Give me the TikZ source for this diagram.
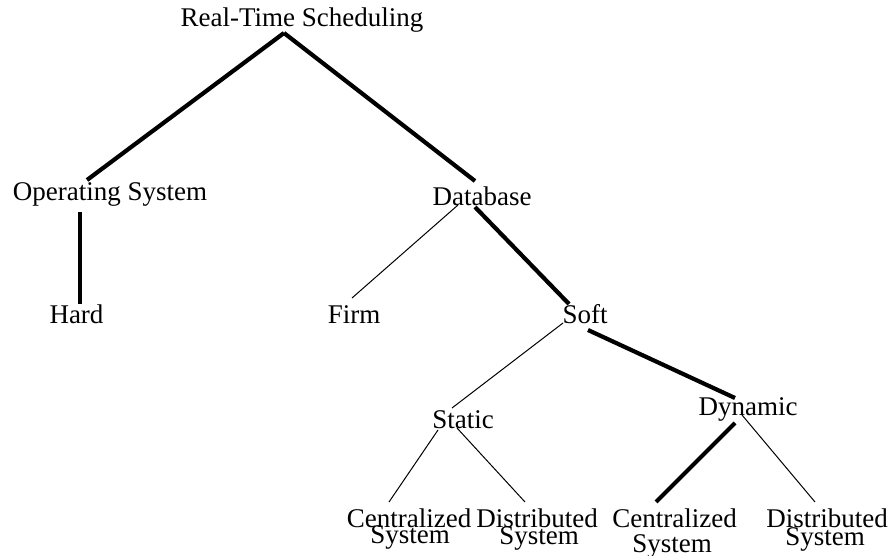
\documentclass[tikz,border=0pt]{standalone}
\usepackage{fontspec}
\setmainfont{Liberation Serif}
\begin{document}
\begin{tikzpicture}[x=1pt,y=-1pt,
  label/.style={inner sep=0pt,anchor=base,font=\fontsize{27}{30}\selectfont},
  heavy/.style={line width=4.2pt},
  light/.style={line width=1pt}]
\useasboundingbox (0,0) rectangle (893,556);

% tree labels
\node[label] (rts)    at (302,27)   {Real-Time Scheduling};
\node[label] (os)     at (110,200)  {Operating System};
\node[label] (db)     at (482,205)  {Database};
\node[label] (hard)   at (76.5,323) {Hard};
\node[label] (firm)   at (354,323)  {Firm};
\node[label] (soft)   at (585,323)  {Soft};
\node[label] (static) at (463,428)  {Static};
\node[label] (dyn)    at (748,415)  {Dynamic};
\node[label] (c1)     at (409,527)  {Centralized};
\node[label] (c1s)    at (410,543)  {System};
\node[label] (d1)     at (537,527)  {Distributed};
\node[label] (d1s)    at (539,544)  {System};
\node[label] (c2)     at (674.5,527){Centralized};
\node[label] (c2s)    at (672,552)  {System};
\node[label] (d2)     at (827,527)  {Distributed};
\node[label] (d2s)    at (825,545)  {System};

% branches
\draw[heavy] ([xshift=-18pt,yshift=-6pt]rts.base) -- ([xshift=-23pt,yshift=20pt]os.base);
\draw[heavy] ([xshift=-18pt,yshift=-6pt]rts.base) -- ([xshift=-7pt,yshift=24pt]db.base);
\draw[heavy] ([xshift=-30pt,yshift=-12pt]os.base) -- ([xshift=3.5pt,yshift=19pt]hard.base);
\draw[light] ([xshift=-24pt]db.base) -- ([xshift=-2pt,yshift=25pt]firm.base);
\draw[heavy] ([xshift=-7pt,yshift=-2pt]db.base) -- ([xshift=-16pt,yshift=19pt]soft.base);
\draw[light] ([xshift=-22pt]soft.base) -- ([xshift=-11pt,yshift=20pt]static.base);
\draw[heavy] ([xshift=3pt,yshift=-7pt]soft.base) -- ([xshift=-13pt,yshift=17pt]dyn.base);
\draw[light] ([xshift=-25pt,yshift=-2pt]static.base) -- ([xshift=-20pt,yshift=25pt]c1.base);
\draw[light] ([xshift=-6pt]static.base) -- ([xshift=-12pt,yshift=25pt]d1.base);
\draw[heavy] ([xshift=-13pt,yshift=-8pt]dyn.base) -- ([xshift=-18.5pt,yshift=25pt]c2.base);
\draw[light] ([xshift=-6pt]dyn.base) -- ([xshift=-12pt,yshift=25pt]d2.base);
\end{tikzpicture}
\end{document}
